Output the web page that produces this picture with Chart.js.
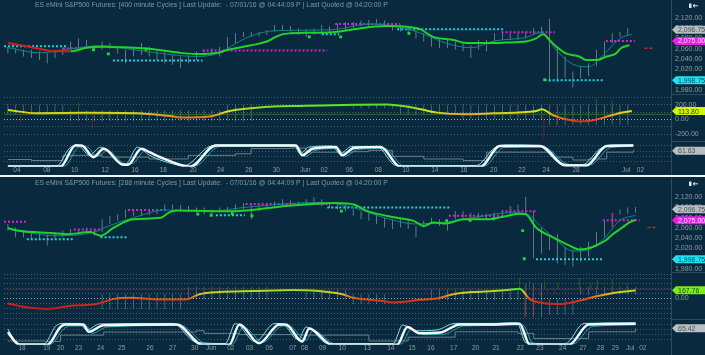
<!DOCTYPE html>
<html><head><meta charset="utf-8">
<script src="https://cdn.jsdelivr.net/npm/chart.js@4.4.1/dist/chart.umd.min.js"></script>
<style>
html,body{margin:0;padding:0;background:#092a3e;width:705px;height:355px;overflow:hidden}
.box{position:absolute;left:0;width:705px;height:177px}
#b1{top:0}
#b2{top:178px}
#sep{position:absolute;left:0;top:175px;width:705px;height:2px;background:#f2f5f7}
</style></head><body>
<div class="box" id="b1"><canvas id="c1" width="705" height="177"></canvas></div>
<div id="sep"></div>
<div class="box" id="b2"><canvas id="c2" width="705" height="177"></canvas></div>
<script>
// ================= TOP PANEL : 400 minute cycles =================
const topTitle = "ES eMini S&P500 Futures: [400 minute Cycles ] Last Update:  - 07/01/16 @ 04:44:09 P | Last Quoted @ 04:20:00 P";
const topHigh = [2064,2061,2058,2058,2055,2051,2058,2061,2074,2080, 2077,2067,2074,2071,2064,2058,2064,2071,2064,2058,
  2058,2048,2045,2048,2055,2058,2061,2064,2083,2090, 2093,2093,2093,2096,2106,2106,2104,2100,2098,2100,
  2106,2103,2109,2112,2112,2115,2116,2118,2115,2109, 2106,2103,2096,2090,2087,2080,2077,2074,2071,2067,
  2077,2077,2090,2093,2090,2090,2093,2100,2103,2118, 2064,2045,2016,2026,2032,2058,2074,2090,2093,2100];
const topLow = [2051,2051,2045,2042,2038,2032,2042,2048,2058,2058, 2064,2058,2058,2060,2051,2032,2045,2048,2045,2038,
  2032,2029,2023,2032,2038,2045,2048,2045,2058,2071, 2083,2083,2084,2087,2093,2096,2093,2087,2083,2087,
  2090,2090,2093,2096,2100,2103,2104,2106,2103,2096, 2093,2087,2080,2074,2064,2061,2061,2058,2055,2042,
  2058,2055,2074,2077,2077,2077,2080,2087,2090,1995, 1996,2003,1985,2003,2007,2026,2045,2071,2083,2087];
const topMaX = [0,2,4,6,8,10,12,14,16,18,20,22,24,26,27,28,30,32,33,34,35,36,38,40,42,44.1,48.3,50.4,52.5,54.2,56.8,58.4,61,63.5,66,67.3,68.2,69,69.9,71.1,72.8,73.7,75,76.3,77.5,78.1,79.2];
const topMaV = [2071,2066,2060,2055,2055,2062,2064,2063,2062,2060,2056,2052,2050,2051,2053,2058,2064,2070,2074,2082,2088,2090,2091,2091,2093,2098,2104,2103,2098,2083,2077,2071,2071,2072,2074,2080,2088,2077,2064,2051,2045,2038,2038,2045,2051,2061,2067];
const topTealX = [0,4,8,12,16,20,24,27,29,31,34,38,42,46,50,53,56,59,62,66,68,70,72,74,76,78,79.5];
const topTealV = [2062,2052,2060,2066,2058,2050,2045,2052,2070,2085,2095,2096,2098,2108,2102,2088,2070,2062,2075,2082,2092,2055,2030,2025,2050,2080,2088];
const topDotX = [10.9,12.8,17.6,38.4,42.4,51.1,68.4];
const topDotV = [2058,2050,2059,2083,2083,2090,2000];
const topLvlStart = [-0.5,7,13.4,24.8,40,41.7,49.6,62.9,68.4,76.2,81.1];
const topLvlEnd   = [7.4,8.8,24.8,40.7,42.2,50,63.1,69.7,76,79.9,82.4];
const topLvlPrice = [2065,2061,2037,2056.5,2088,2108,2097.7,2092,1998.75,2075,2061];
const topLvlKind  = ['c','m','c','m','c','m','c','m','c','m','r'];
const topIndX = [0,3.7,10,16.4,20.6,22.3,25.7,28.2,33.3,38,44.1,48.3,51.7,54.7,58.1,61.9,67.3,68,69.5,71.1,72.8,74.5,76.2,77.9,79.5];
const topIndV = [128,84,90,84,48,27,40,115,173,185,200,204,160,93,70,84,115,137,57,4,-27,-13,35,85,114];
const topIndRef = 70;
const topGreyStart = [0,8,28,44,50,58,69];
const topGreyEnd   = [7,27,31,49,57,68,79];
const topGreyLo    = [70,-18,-18,150,60,0,-70];
const topGreyHi    = [200,125,200,210,200,200,200];
const topUpX = [8,9,71,72,73,74,75,76,77,78];
const topUpV = [137,227,147,93,102,160,280,93,261,137];
const topDnX = [1.6,10.8,11.8,12.8,13.9,68.3,69.9];
const topDnV = [-40,-130,27,4,20,-262,-85];
const topCycX = [0,6.7,8.6,9.4,10.9,12.2,14.7,15.3,17,18.1,19.4,23.2,26.5,36.7,37.5,38.8,41.8,42.6,44.1,47.5,50,60.2,62.7,67.8,71.1,73.7,76.3,79.7];
const topCycV = [1,1,82,82,37,69,8,8,69,55,37,0,82,82,44,69,76,44,72,76,0,0,80,80,5,5,80,82];
const topCycAX = [0,6.2,7.8,8.8,10.4,11.8,14.2,15,16.5,18,19.5,22.5,25.5,27,36.5,37.2,38.3,41.3,42.3,43.8,47,49.5,59.7,62,63.5,67.5,70.5,73.2,75.5,77,79.7];
const topCycAV = [3,3,70,85,45,75,15,10,75,45,25,5,75,84,84,50,75,80,50,78,78,5,5,72,84,82,12,8,70,84,84];
const topCycBX = [0,7.2,9,10,11.4,12.7,15,15.8,17.5,18.6,20,23.8,27,36.9,37.9,39.3,42,43,44.5,48,50.5,60.7,63.2,68.2,71.6,74.2,76.8,79.7];
const topCycBV = [2,2,75,78,40,62,12,12,62,50,30,3,78,78,40,64,70,40,66,70,3,3,74,76,8,8,74,78];
const topCycGX = [0,3,6,7,9,12,14,18,23,27,29,31,36,38,44,46,49,53,58,61,67.5,69.5,72,74,76.3,79.7];
const topCycGV = [28,24,24,44,44,37,37,30,44,44,50,70,72,56,58,63,40,30,24,56,56,37,26,30,56,65];
const topPriceTicks = [1980,2000,2020,2040,2060,2080,2100,2120];
const topIndTicks = [-200,-100,0,100,200,300];
const topIndLabels = [-200,0,200];
const topXTickPos = [1.15,4.95,8.5,12.4,16.2,19.8,23.6,27.1,30.7,34.2,37.9,40.3,43.5,47.2,50.7,54.4,58.1,61.9,65.5,68.6,72.4,78.8,80.6];
const topXTickLbl = ['04','08','10','12','16','18','20','24','26','30','Jun','02','06','08','10','14','16','20','22','24','28','Jul','02'];
const topTagAxis = ['yp','yp','yp','yi','yc'];
const topTagVal  = [2096.75,2075,1998.75,113.80,61.63];
const topTagKind = ['grey','mag','cyan','lime','grey'];

// ================= BOTTOM PANEL : 288 minute cycles =================
const botTitle = "ES eMini S&P500 Futures: [288 minute Cycles ] Last Update:  - 07/01/16 @ 04:44:09 P | Last Quoted @ 04:20:00 P";
const botHigh = [2068,2061,2055,2052,2052,2048,2052,2055,2058,2058, 2061,2058,2077,2084,2087,2096,2093,2093,2096,2096,
  2106,2106,2105,2103,2100,2100,2096,2100,2101,2106, 2109,2106,2103,2109,2112,2116,2114,2112,2116,2120,
  2116,2109,2106,2103,2096,2093,2090,2087,2080,2077, 2080,2074,2064,2074,2080,2077,2077,2093,2093,2090,
  2090,2088,2090,2093,2103,2106,2121,2093,2061,2045, 2048,2023,2017,2023,2033,2052,2074,2090,2096,2100,2101];
const botLow = [2055,2042,2042,2039,2036,2026,2039,2042,2045,2048, 2050,2045,2052,2068,2074,2080,2084,2084,2085,2087,
  2093,2096,2095,2093,2090,2087,2084,2090,2093,2093, 2096,2077,2093,2096,2099,2103,2106,2103,2106,2107,
  2103,2099,2096,2093,2084,2077,2074,2068,2061,2058, 2061,2058,2042,2061,2068,2064,2055,2077,2080,2077,
  2077,2077,2080,2080,2087,2093,2087,2001,2010,2017, 1991,1988,1985,1994,2004,2023,2042,2061,2087,2088,2090];
const botMaX = [0,1.2,5.8,7.5,10.5,11.8,13.5,16,19.5,20.5,21.5,26,29,31.6,35.4,38.8,41.8,44.1,45.8,49.6,51.7,53,54.2,55.9,58,61,63.1,65.2,66,67.3,69.4,71.5,72.8,74.5,76.2,77,78.3,79.2,80];
const botMaV = [2060,2055,2050,2048,2052,2045,2061,2077,2080,2090,2094,2093,2093,2096,2103,2107,2109,2106,2093,2080,2074,2064,2071,2069,2077,2077,2082,2088,2087,2061,2042,2026,2018,2023,2036,2047,2061,2071,2076];
const botTealX = [0,6,11,13,16,20,26,30,36,40,44,48,52,56,60,64,66,68,70,72,74,76,78,80];
const botTealV = [2058,2045,2052,2065,2080,2095,2093,2100,2108,2110,2100,2080,2068,2072,2082,2090,2088,2062,2035,2015,2018,2040,2075,2085];
const botDotX = [24.2,25.9,28.6,31.1,42.5,55.9,58.9,61.9,65.6,65.8];
const botDotV = [2087,2085,2088,2084,2093,2074,2075,2078,2055,2000];
const botRedX = [64.1,77.1];
const botRedLo = [2093,2064];
const botRedHi = [2103,2090];
const botLvlStart = [-0.5,2.4,8.4,11.8,15.3,26.5,30.3,40.7,56.2,62.9,67.3,75.8,81.5];
const botLvlEnd   = [2.3,8.4,11.8,15.1,20.2,30.2,41,56.4,62.9,67.3,75.8,80.5,82.5];
const botLvlPrice = [2072,2038,2057,2042,2095,2085,2107,2100,2084,2093,1998.75,2075,2061];
const botLvlKind  = ['m','c','m','c','m','c','m','c','m','m','c','m','r'];
const botIndX = [0,2,5,8,11.3,13.4,15.6,18.5,22.7,24.4,27,31.2,36.3,39.6,42.6,44.1,47.5,49.2,52.5,54.7,56.8,59.3,61.9,63.6,65.2,66.5,68.2,70.3,72.8,74.9,77,80];
const botIndV = [-100,-170,-213,-150,-113,-13,13,-13,-20,87,133,153,173,153,87,10,-47,-80,-27,0,87,133,153,173,200,-13,-93,-113,-47,40,107,168];
const botIndRef = 188;
const botGreyStart = [12,23,38,44,54,66,69,73];
const botGreyEnd   = [22,33,43,48,65,68,72,80];
const botGreyLo    = [-213,-13,-13,-113,-40,-380,-330,80];
const botGreyHi    = [87,233,200,87,200,300,0,233];
const botUpX = [65.2,66.5,68.4,70.1,72.8,74.3,75.1,77,78.9];
const botUpV = [420,353,353,320,420,320,387,400,320];
const botDnX = [65.8,66.9,67.8,68.8,69.7,71,73.3];
const botDnV = [-380,-347,53,80,100,80,120];
const botCycX = [0,1,1.5,5,6.7,7.3,9.6,10.3,12.2,21.5,24.8,28.2,29.5,32,34.6,35.4,37.5,38.4,41.3,49.6,50.9,52.5,55.1,57.6,62.2,64.3,65.2,66.5,71.5,74,80];
const botCycV = [50,10,0,0,70,80,80,51,77,80,0,0,80,6,80,80,13,64,0,0,70,45,48,80,80,83,83,0,0,80,83];
const botCycAX = [0,0.8,1.3,4.6,6.1,7,9.2,10,11.7,21,24,27.7,29,31.5,34,35,37,38,40.8,49.1,50.3,52,54.6,57,62,64,64.9,66,71,73.4,80];
const botCycAV = [62,20,4,4,74,84,84,58,82,84,10,5,84,12,84,82,20,70,5,5,78,55,58,84,84,86,86,8,4,84,86];
const botCycBX = [0,1.3,1.8,5.4,7.1,7.8,10,10.7,12.7,22,25.3,28.6,30,32.5,35,35.8,38,38.9,41.8,50.1,51.4,53,55.6,58.1,62.6,64.7,65.6,67,72,74.5,80];
const botCycBV = [40,6,2,2,62,74,74,45,70,76,4,2,70,10,74,74,18,56,3,3,62,40,42,74,76,78,78,3,3,72,78];
const botCycGX = [0,5,6.7,10,12.2,21.5,24,25,28,29.5,35.4,37.5,44,46,49.6,51,55,57,63,65,67,72,74,80];
const botCycGV = [15,13,38,38,50,50,55,45,45,40,40,38,38,15,15,30,30,51,51,45,25,25,51,64];
const botPriceTicks = [1980,2000,2020,2040,2060,2080,2100,2120];
const botIndTicks = [-400,-300,-200,-100,0,100,200,300,400,500];
const botIndLabels = [0];
const botXTickPos = [1.8,4.95,6.7,9,11.8,14.5,18.1,21,23.8,25.9,28.4,30.8,33.3,36.3,37.8,40.1,42.6,45.8,48.8,51.5,53.9,56.8,59.6,62.2,65.3,67.8,70.7,73.3,75.5,77.4,79.3,80.9];
const botXTickLbl = ['18','19','20','23','24','25','26','27','30','Jun','02','03','06','07','08','09','10','13','14','15','16','17','20','21','22','23','24','27','28','29','Jul','02'];
const botTagAxis = ['yp','yp','yp','yi','yc'];
const botTagVal  = [2096.75,2075,1998.75,167.76,65.42];
const botTagKind = ['grey','mag','cyan','green','grey'];

// ================= RENDERING =================
const FONT = '"Liberation Sans", Arial, sans-serif';
const TXT = '#8e9ba4';
const LVLCOL = {m:'#d61ed6', c:'#22cfdc', r:'#d42626'};
const TAGCOL = {grey:['#b9bec2','#4a5054'], mag:['#f01af0','#ffe6ff'], cyan:['#1de3f2','#0f4a5a'], lime:['#d3f20c','#3f4a00'], green:['#7ced1c','#1f4a05']};
const fmt = v => Number(v).toLocaleString('en-US',{minimumFractionDigits:2,maximumFractionDigits:2});
const pts = (xs, vs) => xs.map((x, k) => ({x, y: vs[k]}));
const ohlc = (lo, hi) => lo.map((l, i) => ({x: i, y: [l, hi[i]]}));
function segBars(st, en, lo, hi) {
  const out = [];
  st.forEach((s, k) => { for (let i = s; i <= en[k]; i++) out.push({x: i, y: [lo[k], hi[k]]}); });
  return out;
}
const hist = (xs, vs, base) => xs.map((x, k) => ({x, y: [base, vs[k]]}));

function lineDs(axis, data, color, width, order, extra) {
  return Object.assign({type:'line', yAxisID:axis, data, borderColor:color, borderWidth:width,
    pointRadius:0, tension:0.35, cubicInterpolationMode:'monotone', fill:false, order}, extra || {});
}

function gradient(chart, stops) {
  const {ctx, chartArea, scales} = chart;
  if (!chartArea || !scales.yi) return stops[0][1];
  const s = scales.yi;
  const y0 = s.getPixelForValue(stops[0][0]);
  const y1 = s.getPixelForValue(stops[stops.length - 1][0]);
  const g = ctx.createLinearGradient(0, y0, 0, y1);
  stops.forEach(([v, c]) => g.addColorStop(Math.min(1, Math.max(0, (s.getPixelForValue(v) - y0) / (y1 - y0))), c));
  return g;
}

function decor(P) {
  return {
    id: 'decor',
    afterDraw(chart) {
      const ctx = chart.ctx, ca = chart.chartArea, sc = chart.scales;
      ctx.save();
      ctx.strokeStyle = '#2f4a5a'; ctx.lineWidth = 1;
      ctx.beginPath(); ctx.moveTo(ca.right + 0.5, 0); ctx.lineTo(ca.right + 0.5, chart.height); ctx.stroke();
      [sc.yp.bottom, sc.yi.bottom].forEach(y => {
        ctx.beginPath(); ctx.moveTo(ca.right, Math.round(y) + 0.5); ctx.lineTo(chart.width, Math.round(y) + 0.5); ctx.stroke();
      });
      ctx.fillStyle = '#8695a0';
      ctx.font = '7px ' + FONT;
      const w = ctx.measureText(P.title).width;
      const size = 7 * 353 / w;
      ctx.font = size.toFixed(2) + 'px ' + FONT;
      ctx.textBaseline = 'middle';
      ctx.fillText(P.title, 35, 5.5);
      ctx.fillStyle = '#dfe6ea';
      ctx.fillRect(689, 3.5, 2.5, 4.5);
      ctx.strokeStyle = '#dfe6ea';
      ctx.beginPath(); ctx.moveTo(693, 5.8); ctx.lineTo(698, 5.8); ctx.moveTo(693, 5.8); ctx.lineTo(695, 4.2); ctx.moveTo(693, 5.8); ctx.lineTo(695, 7.4); ctx.stroke();
      P.tagAxis.forEach((ax, k) => {
        const y = sc[ax].getPixelForValue(P.tagVal[k]);
        const [bg, fg] = TAGCOL[P.tagKind[k]];
        const x0 = ca.right + 1, h = 8;
        ctx.fillStyle = bg;
        ctx.beginPath();
        ctx.moveTo(x0, y); ctx.lineTo(x0 + 4, y - h / 2); ctx.lineTo(chart.width, y - h / 2);
        ctx.lineTo(chart.width, y + h / 2); ctx.lineTo(x0 + 4, y + h / 2); ctx.closePath(); ctx.fill();
        ctx.fillStyle = fg; ctx.font = '7px ' + FONT; ctx.textBaseline = 'middle';
        ctx.fillText(fmt(P.tagVal[k]), x0 + 6, y + 0.5);
      });
      ctx.restore();
    }
  };
}

function build(id, P) {
  const ds = [];
  ds.push({type:'bar', yAxisID:'yp', data: ohlc(P.low, P.high), backgroundColor:'#aab4bb', maxBarThickness:1, grouped:false, order:40});
  if (P.redX) ds.push({type:'bar', yAxisID:'yp', data: P.redX.map((x, k) => ({x, y:[P.redLo[k], P.redHi[k]]})), backgroundColor:'#ff1c1c', maxBarThickness:2, grouped:false, order:39});
  P.lvlStart.forEach((s, k) => {
    const kind = P.lvlKind[k];
    ds.push(lineDs('yp', [{x:s, y:P.lvlPrice[k]}, {x:P.lvlEnd[k], y:P.lvlPrice[k]}], LVLCOL[kind], kind === 'r' ? 1.5 : 2, 8,
      {borderDash: kind === 'r' ? [3,2] : [2,2], tension:0}));
  });
  ds.push(lineDs('yp', pts(P.tealX, P.tealV), '#17808c', 1, 7));
  ds.push(lineDs('yp', pts(P.maX, P.maV), '#22d22a', 2, 6,
    {segment:{borderColor: c => c.p0.parsed.x < P.maRed ? '#d4201c' : '#22d22a'}}));
  ds.push({type:'line', yAxisID:'yp', data: pts(P.dotX, P.dotV), showLine:false, pointStyle:'rect', pointRadius:2,
    pointBackgroundColor:'#1fdc2a', pointBorderWidth:0, order:5});
  ds.push({type:'bar', yAxisID:'yi', data: segBars(P.greyStart, P.greyEnd, P.greyLo, P.greyHi), backgroundColor:'rgba(205,214,220,0.55)', maxBarThickness:1, grouped:false, order:38});
  ds.push({type:'bar', yAxisID:'yi', data: hist(P.upX, P.upV, P.indRef), backgroundColor:'#1f8a1f', maxBarThickness:2, grouped:false, order:37});
  ds.push({type:'bar', yAxisID:'yi', data: hist(P.dnX, P.dnV, P.indRef), backgroundColor:'#b01818', maxBarThickness:2, grouped:false, order:36});
  ds.push(lineDs('yi', [{x:-0.5, y:P.indRef}, {x:84.5, y:P.indRef}], P.refCol, 1, 35, {tension:0}));
  ds.push(lineDs('yi', pts(P.indX, P.indV), c => gradient(c.chart, P.stops), 2, 4));
  ds.push(lineDs('yc', pts(P.cycGX, P.cycGV), 'rgba(130,145,155,0.8)', 1, 20, {tension:0, stepped:true}));
  ds.push(lineDs('yc', pts(P.cycBX, P.cycBV), '#1aa7b3', 1, 12));
  ds.push(lineDs('yc', pts(P.cycAX, P.cycAV), '#7be0e8', 1, 11));
  ds.push(lineDs('yc', pts(P.cycX, P.cycV), '#f4f7f8', 2.5, 10));

  return new Chart(document.getElementById(id), {
    type: 'bar',
    data: {datasets: ds},
    options: {
      responsive: false, animation: false, events: [],
      layout: {padding: {top: 10, bottom: P.padBottom, left: 0, right: 0}},
      plugins: {legend: {display: false}, tooltip: {enabled: false}},
      scales: {
        x: {type:'linear', position:'bottom', min:-0.5, max:84.5, offset:false,
          afterBuildTicks: s => { s.ticks = P.xTickPos.map(v => ({value: v})); },
          afterFit: s => { s.height = 7; },
          ticks: {autoSkip:false, maxRotation:0, padding:0, color:TXT, font:{size:6.5, family:FONT},
            callback: (v, i) => P.xTickLbl[i]},
          grid: {display:false, drawTicks:false}, border: {display:false}},
        yp: {type:'linear', position:'right', stack:'s', stackWeight:P.w[0], min:P.pMin, max:P.pMax,
          afterBuildTicks: s => { s.ticks = P.priceTicks.map(v => ({value: v})); },
          afterFit: s => { s.width = 34; },
          ticks: {autoSkip:false, color:TXT, padding:4, font:{size:7, family:FONT}, callback: v => fmt(v)},
          grid: {display:false, drawTicks:false}, border: {display:false}},
        yi: {type:'linear', position:'right', stack:'s', stackWeight:P.w[1], min:P.iMin, max:P.iMax,
          afterBuildTicks: s => { s.ticks = P.indTicks.map(v => ({value: v})); },
          afterFit: s => { s.width = 34; },
          ticks: {autoSkip:false, color:TXT, padding:4, font:{size:7, family:FONT}, callback: v => P.indLabels.includes(v) ? fmt(v) : ''},
          grid: {drawTicks:false, lineWidth:1, color: c => c.tick && c.tick.value === 0 ? 'rgba(225,232,236,0.7)' : 'rgba(140,160,172,0.45)'},
          border: {display:false, dash:[1,2]}},
        yc: {type:'linear', position:'right', stack:'s', stackWeight:P.w[2], min:0, max:100,
          afterBuildTicks: s => { s.ticks = [20,40,60,80].map(v => ({value: v})); },
          afterFit: s => { s.width = 34; },
          ticks: {autoSkip:false, callback: () => ''},
          grid: {drawTicks:false, lineWidth:1, color:'rgba(140,160,172,0.4)'},
          border: {display:false, dash:[1,2]}}
      }
    },
    plugins: [decor(P)]
  });
}

build('c1', {
  title: topTitle, high: topHigh, low: topLow, maX: topMaX, maV: topMaV, maRed: 8,
  tealX: topTealX, tealV: topTealV, dotX: topDotX, dotV: topDotV,
  lvlStart: topLvlStart, lvlEnd: topLvlEnd, lvlPrice: topLvlPrice, lvlKind: topLvlKind,
  indX: topIndX, indV: topIndV, indRef: topIndRef, refCol: '#2f6a2a',
  greyStart: topGreyStart, greyEnd: topGreyEnd, greyLo: topGreyLo, greyHi: topGreyHi,
  upX: topUpX, upV: topUpV, dnX: topDnX, dnV: topDnV,
  cycX: topCycX, cycV: topCycV, cycAX: topCycAX, cycAV: topCycAV, cycBX: topCycBX, cycBV: topCycBV, cycGX: topCycGX, cycGV: topCycGV,
  priceTicks: topPriceTicks, indTicks: topIndTicks, indLabels: topIndLabels,
  xTickPos: topXTickPos, xTickLbl: topXTickLbl,
  tagAxis: topTagAxis, tagVal: topTagVal, tagKind: topTagKind,
  stops: [[220,'#3be81c'],[170,'#86e01e'],[110,'#dde21e'],[50,'#e39a1e'],[0,'#e2541a'],[-40,'#d2221a']],
  w: [84.3, 47.4, 26.3], pMin: 1972.7, pMax: 2134.8, iMin: -285, iMax: 347, padBottom: 2
});
build('c2', {
  title: botTitle, high: botHigh, low: botLow, maX: botMaX, maV: botMaV, maRed: -1,
  tealX: botTealX, tealV: botTealV, dotX: botDotX, dotV: botDotV,
  redX: botRedX, redLo: botRedLo, redHi: botRedHi,
  lvlStart: botLvlStart, lvlEnd: botLvlEnd, lvlPrice: botLvlPrice, lvlKind: botLvlKind,
  indX: botIndX, indV: botIndV, indRef: botIndRef, refCol: '#7a1c1c',
  greyStart: botGreyStart, greyEnd: botGreyEnd, greyLo: botGreyLo, greyHi: botGreyHi,
  upX: botUpX, upV: botUpV, dnX: botDnX, dnV: botDnV,
  cycX: botCycX, cycV: botCycV, cycAX: botCycAX, cycAV: botCycAV, cycBX: botCycBX, cycBV: botCycBV, cycGX: botCycGX, cycGV: botCycGV,
  priceTicks: botPriceTicks, indTicks: botIndTicks, indLabels: botIndLabels,
  xTickPos: botXTickPos, xTickLbl: botXTickLbl,
  tagAxis: botTagAxis, tagVal: botTagVal, tagKind: botTagKind,
  stops: [[200,'#3be81c'],[160,'#a6e01e'],[100,'#e0c21e'],[40,'#e27a1a'],[-50,'#d8321a'],[-200,'#c8181a']],
  w: [85.7, 48.3, 26], pMin: 1973.9, pMax: 2137.8, iMin: -426, iMax: 540, padBottom: 0
});
</script>
</body></html>
